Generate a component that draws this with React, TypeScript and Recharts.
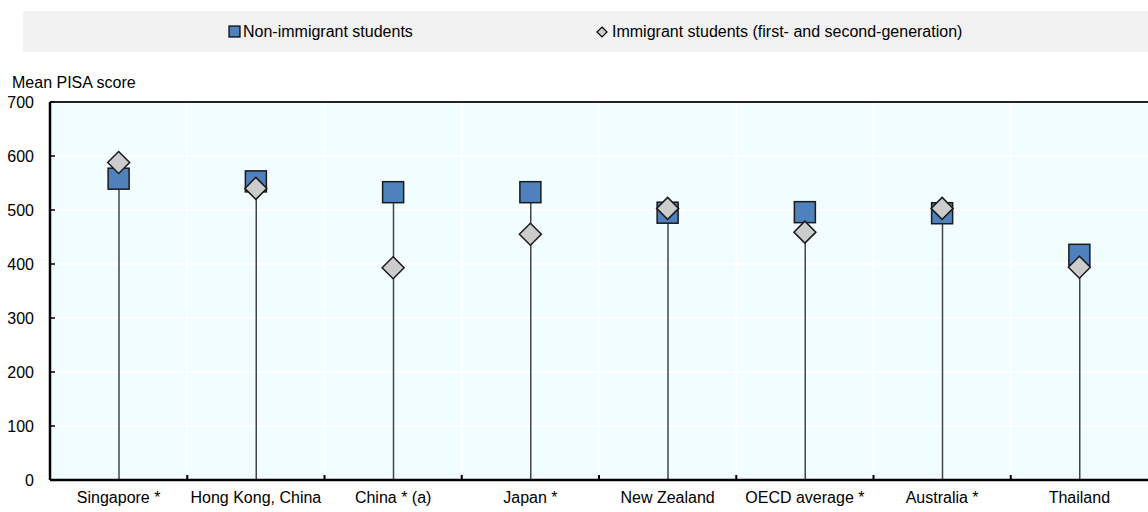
import { ComposedChart, Bar, Scatter, XAxis, YAxis, CartesianGrid, ReferenceLine } from 'recharts';

document.body.style.margin = '0';

const countries = [
  'Singapore *',
  'Hong Kong, China',
  'China * (a)',
  'Japan *',
  'New Zealand',
  'OECD average *',
  'Australia *',
  'Thailand',
];
const nonImmigrant = [558, 553, 533, 533, 495, 496, 494, 417];
const immigrant = [588, 540, 393, 455, 503, 459, 503, 394];
const yTicks = [0, 100, 200, 300, 400, 500, 600, 700];

const data = countries.map((country, i) => ({
  country,
  nonImmigrant: nonImmigrant[i],
  immigrant: immigrant[i],
  stem: Math.max(nonImmigrant[i], immigrant[i]),
}));

const FONT = '"Liberation Sans", Arial, sans-serif';
const BLUE = '#4F81BD';
const GREY = '#CCCCCC';

const Square = ({ cx, cy }: any) => (
  <rect x={cx - 10.5} y={cy - 10.5} width={21} height={21} fill={BLUE} stroke="#1a1a1a" strokeWidth={1.5} />
);

const Diamond = ({ cx, cy }: any) => (
  <polygon
    points={`${cx},${cy - 11} ${cx + 11},${cy} ${cx},${cy + 11} ${cx - 11},${cy}`}
    fill={GREY}
    stroke="#1a1a1a"
    strokeWidth={1.5}
  />
);

const Stem = ({ x, y, width, height }: any) => {
  const cx = x + width / 2;
  return <line x1={cx} x2={cx} y1={y} y2={y + height} stroke="#444" strokeWidth={1.5} />;
};

const XTick = ({ x, y, payload }: any) => {
  const half = payload.offset ?? 0;
  return (
    <g>
      <line x1={x - half} x2={x - half} y1={y} y2={y - 5} stroke="#000" strokeWidth={2} />
      <text x={x} y={y + 23} textAnchor="middle" fontSize={16} fontFamily={FONT} fill="#000">
        {payload.value}
      </text>
    </g>
  );
};

const YTick = ({ x, y, payload }: any) => (
  <g>
    <line x1={x} x2={x + 5} y1={y} y2={y} stroke="#000" strokeWidth={1.5} />
    <text x={x - 16} y={y + 6} textAnchor="end" fontSize={16} fontFamily={FONT} fill="#000">
      {payload.value}
    </text>
  </g>
);

const gridX = ({ offset }: any) =>
  countries.map((_, i) => offset.left + (offset.width * i) / countries.length);

export default function App() {
  return (
    <div style={{ position: 'relative', width: 1148, height: 512, fontFamily: FONT, background: '#fff' }}>
      <div style={{ position: 'absolute', left: 23, top: 11, width: 1125, height: 41, background: '#F2F2F2' }}>
        <svg width={14} height={14} style={{ position: 'absolute', left: 205, top: 14 }}>
          <rect x={1} y={1} width={11} height={11} fill={BLUE} stroke="#000" strokeWidth={1.2} />
        </svg>
        <span style={{ position: 'absolute', left: 220, top: 11, fontSize: 16, lineHeight: '20px', color: '#000' }}>
          Non-immigrant students
        </span>
        <svg width={14} height={14} style={{ position: 'absolute', left: 573, top: 15 }}>
          <polygon points="6,1 11,6 6,11 1,6" fill={GREY} stroke="#000" strokeWidth={1.2} />
        </svg>
        <span style={{ position: 'absolute', left: 589, top: 11, fontSize: 16, lineHeight: '20px', color: '#000' }}>
          Immigrant students (first- and second-generation)
        </span>
      </div>
      <div style={{ position: 'absolute', left: 12, top: 73, fontSize: 16, lineHeight: '20px', color: '#000' }}>
        Mean PISA score
      </div>
      <div style={{ position: 'absolute', left: 0, top: 0 }}>
        <ComposedChart width={1148} height={512} data={data} margin={{ top: 102, right: 0, bottom: 2, left: 0 }}>
          <CartesianGrid
            fill="#F2FDFF"
            fillOpacity={1}
            stroke="#FFFFFF"
            strokeWidth={2}
            verticalCoordinatesGenerator={gridX}
          />
          <XAxis
            dataKey="country"
            height={30}
            tickLine={false}
            tickSize={0}
            tickMargin={0}
            interval={0}
            axisLine={{ stroke: '#000', strokeWidth: 2.5 }}
            tick={<XTick />}
          />
          <YAxis
            width={50}
            domain={[0, 700]}
            ticks={yTicks}
            tickLine={false}
            tickSize={0}
            tickMargin={0}
            axisLine={{ stroke: '#000', strokeWidth: 2.5 }}
            tick={<YTick />}
          />
          <ReferenceLine y={700} stroke="#222" strokeWidth={2} />
          <Bar dataKey="stem" barSize={20} shape={<Stem />} isAnimationActive={false} />
          <Scatter dataKey="nonImmigrant" shape={<Square />} isAnimationActive={false} />
          <Scatter dataKey="immigrant" shape={<Diamond />} isAnimationActive={false} />
        </ComposedChart>
      </div>
    </div>
  );
}
